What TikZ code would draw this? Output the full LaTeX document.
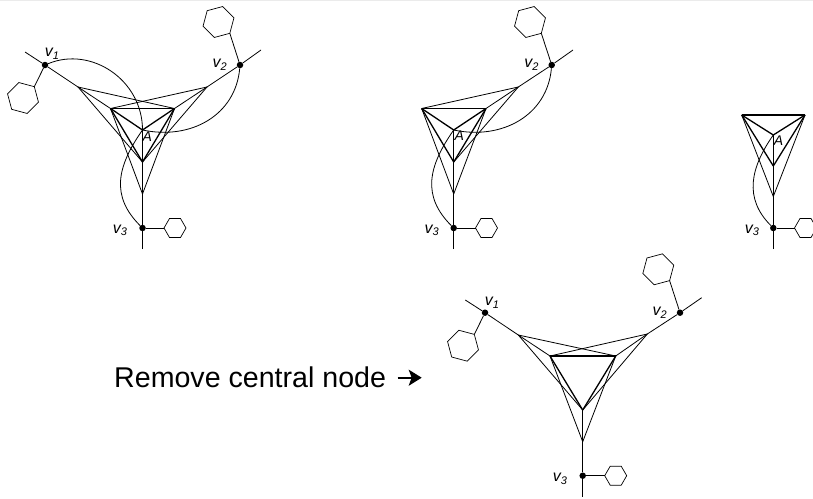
\documentclass[tikz,border=0pt]{standalone}
\usepackage{fontspec}
\setmainfont{Liberation Sans}
\usetikzlibrary{shapes.geometric,arrows.meta}
\tikzset{
  thinl/.style={line width=0.8pt,black},
  thickl/.style={line width=1.3pt,black},
  dot/.style={circle,fill=black,inner sep=0pt,minimum size=6.5pt},
  hexbig/.style={regular polygon,regular polygon sides=6,draw,line width=0.7pt,inner sep=0pt,outer sep=0pt,minimum size=32pt},
  hexsmall/.style={regular polygon,regular polygon sides=6,draw,line width=0.7pt,inner sep=0pt,outer sep=0pt,minimum size=22pt},
  lab/.style={font=\fontsize{16}{16}\selectfont\itshape,inner sep=0pt},
  labA/.style={font=\fontsize{14}{14}\selectfont\itshape,inner sep=0pt},
}
\newcommand{\vlab}[1]{v\raisebox{-2.7pt}{\fontsize{11}{11}\selectfont #1}}
\begin{document}
\begin{tikzpicture}[x=1pt,y=-1pt]
\clip (0,0) rectangle (813,498);
\fill[white] (0,0) rectangle (813,498);
\fill[black!8] (0,0) rectangle (813,1);
% ---- Figure 1
\node[dot] (av1) at (45,65) {};
\node[dot] (av2) at (240,65) {};
\node[dot] (av3) at (142.5,228) {};
\coordinate (as1) at (25,52);
\coordinate (as2) at (261,50);
\coordinate (as3) at (142.5,249);
\coordinate (aA) at (142.5,130);
\coordinate (ao1) at (78,87);
\coordinate (ao2) at (207,87);
\coordinate (ao3) at (142.5,194);
\coordinate (ai1) at (110.5,108.5);
\coordinate (ai2) at (174.5,108.5);
\coordinate (ai3) at (142.5,162);
\node[hexbig,shape border rotate=-15] (ah1) at (23,98) {};
\node[hexbig,shape border rotate=15] (ah2) at (218.5,22) {};
\node[hexsmall] (ah3) at (175,228) {};
\draw[thinl] (av1) -- (ah1.corner 1);
\draw[thinl] (av2) -- (ah2.corner 5);
\draw[thinl] (av3) -- (ah3.corner 3);
\draw[thinl] (as1) -- (av1); \draw[thinl] (av1) -- (ao1);
\draw[thinl] (as2) -- (av2); \draw[thinl] (av2) -- (ao2);
\draw[thinl] (as3) -- (av3); \draw[thinl] (av3) -- (ao3);
\draw[thinl] (ao1) -- (ai1); \draw[thinl] (ao1) -- (ai2); \draw[thinl] (ao1) -- (ai3);
\draw[thinl] (ao2) -- (ai1); \draw[thinl] (ao2) -- (ai2); \draw[thinl] (ao2) -- (ai3);
\draw[thinl] (ao3) -- (ai1); \draw[thinl] (ao3) -- (ai2); \draw[thinl] (ao3) -- (ai3);
\draw[thickl] (ai1) -- (ai2); \draw[thickl] (ai2) -- (ai3); \draw[thickl] (ai3) -- (ai1);
\draw[thickl] (aA) -- (ai1); \draw[thickl] (aA) -- (ai2); \draw[thickl] (aA) -- (ai3);
\draw[thinl] (av1) .. controls +(22.6:50pt) and +(90:50pt) .. (aA);
\draw[thinl] (aA) .. controls +(-12:50pt) and +(-95:50pt) .. (av2);
\draw[thinl] (av3) .. controls +(135:45pt) and +(235:45pt) .. (aA);
\node[lab] (alv1) at (52,54) {\vlab{1}};
\node[lab] (alv2) at (219.7,65) {\vlab{2}};
\node[lab] (alv3) at (120,230.3) {\vlab{3}};
\node[labA] (alA) at (147.3,136.5) {A};
% ---- Figure 2
\node[dot] (bv2) at (551.7,65) {};
\node[dot] (bv3) at (453.7,228) {};
\coordinate (bs2) at (573,50);
\coordinate (bs3) at (453.7,249);
\coordinate (bA) at (453.7,130);
\coordinate (bo2) at (518.3,87);
\coordinate (bo3) at (453.7,194);
\coordinate (bi1) at (421.7,108.5);
\coordinate (bi2) at (486,108.5);
\coordinate (bi3) at (453.7,162);
\node[hexbig,shape border rotate=15] (bh2) at (530,22) {};
\node[hexsmall] (bh3) at (486.5,228) {};
\draw[thinl] (bv2) -- (bh2.corner 5);
\draw[thinl] (bv3) -- (bh3.corner 3);
\draw[thinl] (bs2) -- (bv2); \draw[thinl] (bv2) -- (bo2);
\draw[thinl] (bs3) -- (bv3); \draw[thinl] (bv3) -- (bo3);
\draw[thinl] (bo2) -- (bi1); \draw[thinl] (bo2) -- (bi2); \draw[thinl] (bo2) -- (bi3);
\draw[thinl] (bo3) -- (bi1); \draw[thinl] (bo3) -- (bi2); \draw[thinl] (bo3) -- (bi3);
\draw[thickl] (bi1) -- (bi2); \draw[thickl] (bi2) -- (bi3); \draw[thickl] (bi3) -- (bi1);
\draw[thickl] (bA) -- (bi1); \draw[thickl] (bA) -- (bi2); \draw[thickl] (bA) -- (bi3);
\draw[thinl] (bA) .. controls +(-12:50pt) and +(-95:50pt) .. (bv2);
\draw[thinl] (bv3) .. controls +(135:45pt) and +(235:45pt) .. (bA);
\node[lab] (blv2) at (531.5,65) {\vlab{2}};
\node[lab] (blv3) at (431.7,230.3) {\vlab{3}};
\node[labA] (blA) at (459.3,136) {A};
% ---- Figure 3
\node[dot] (cv3) at (773.3,228) {};
\coordinate (cs3) at (773.3,249);
\coordinate (cA) at (773.3,135);
\coordinate (co3) at (773.3,196.5);
\coordinate (ci1) at (741.7,115);
\coordinate (ci2) at (805,115);
\coordinate (ci3) at (773.3,166);
\node[hexsmall] (ch3) at (805.5,228) {};
\draw[thinl] (cv3) -- (ch3.corner 3);
\draw[thinl] (cs3) -- (cv3); \draw[thinl] (cv3) -- (co3);
\draw[thinl] (co3) -- (ci1); \draw[thinl] (co3) -- (ci2); \draw[thinl] (co3) -- (ci3);
\draw[thickl] (ci1) -- (ci2); \draw[thickl] (ci2) -- (ci3); \draw[thickl] (ci3) -- (ci1);
\draw[thickl] (cA) -- (ci1); \draw[thickl] (cA) -- (ci2); \draw[thickl] (cA) -- (ci3);
\draw[thinl] (cv3) .. controls +(135:42pt) and +(235:40pt) .. (cA);
\node[lab] (clv3) at (752,230.3) {\vlab{3}};
\node[labA] (clA) at (778.5,141) {A};
% ---- Figure 4
\node[dot] (dv1) at (485,312.7) {};
\node[dot] (dv2) at (680,312.7) {};
\node[dot] (dv3) at (582.7,475.7) {};
\coordinate (ds1) at (465.3,300);
\coordinate (ds2) at (701.7,297.7);
\coordinate (ds3) at (582.7,496.7);
\coordinate (do1) at (518.3,335);
\coordinate (do2) at (647.3,334);
\coordinate (do3) at (582.7,441.7);
\coordinate (di1) at (550,356);
\coordinate (di2) at (615.7,356);
\coordinate (di3) at (582.7,410);
\node[hexbig,shape border rotate=-15] (dh1) at (463,345.7) {};
\node[hexbig,shape border rotate=15] (dh2) at (658.3,269.3) {};
\node[hexsmall] (dh3) at (615.7,475.7) {};
\draw[thinl] (dv1) -- (dh1.corner 1);
\draw[thinl] (dv2) -- (dh2.corner 5);
\draw[thinl] (dv3) -- (dh3.corner 3);
\draw[thinl] (ds1) -- (dv1); \draw[thinl] (dv1) -- (do1);
\draw[thinl] (ds2) -- (dv2); \draw[thinl] (dv2) -- (do2);
\draw[thinl] (ds3) -- (dv3); \draw[thinl] (dv3) -- (do3);
\draw[thinl] (do1) -- (di1); \draw[thinl] (do1) -- (di2); \draw[thinl] (do1) -- (di3);
\draw[thinl] (do2) -- (di1); \draw[thinl] (do2) -- (di2); \draw[thinl] (do2) -- (di3);
\draw[thinl] (do3) -- (di1); \draw[thinl] (do3) -- (di2); \draw[thinl] (do3) -- (di3);
\draw[thickl] (di1) -- (di2); \draw[thickl] (di2) -- (di3); \draw[thickl] (di3) -- (di1);
\node[lab] (dlv1) at (492,302.5) {\vlab{1}};
\node[lab] (dlv2) at (659.7,313) {\vlab{2}};
\node[lab] (dlv3) at (560,479) {\vlab{3}};
% ---- Caption
\node[font=\fontsize{28.6}{28.6}\selectfont,anchor=base west,inner sep=0pt] (cap) at (114,387.3) {Remove central node};
\coordinate (arrowstart) at (397.7,377.7);
\coordinate (arrowend) at (421.7,377.7);
\draw[-{Stealth[length=13pt,width=16pt,inset=3pt]},line width=1.8pt] (arrowstart) -- (arrowend);
\end{tikzpicture}
\end{document}
